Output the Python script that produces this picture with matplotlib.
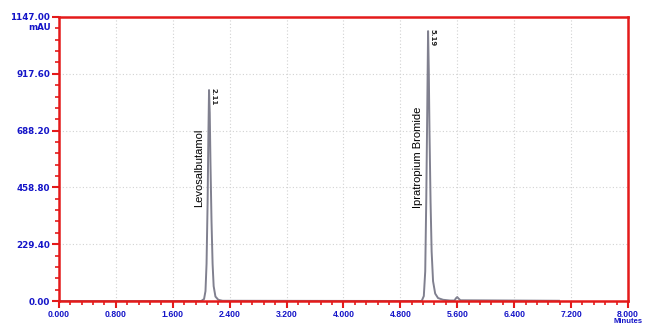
import matplotlib.pyplot as plt
from matplotlib.ticker import MultipleLocator, FixedLocator

# chromatogram trace (minutes, mAU)
time = [0.0, 2.00, 2.04, 2.06, 2.075, 2.09, 2.10, 2.11, 2.12, 2.13, 2.145, 2.16, 2.175, 2.20, 2.24, 2.30,
        5.10, 5.13, 5.15, 5.165, 5.178, 5.19, 5.20, 5.21, 5.225, 5.24, 5.26, 5.29, 5.33, 5.40, 5.50,
        5.56, 5.585, 5.60, 5.615, 5.645, 7.03]
signal = [0, 0, 8, 40, 150, 400, 650, 852, 760, 560, 320, 150, 60, 18, 5, 1,
          0, 20, 120, 420, 760, 1090, 930, 680, 400, 200, 80, 30, 12, 5, 2,
          2, 12, 16, 11, 3, 1]

peak_rt = [2.11, 5.19]
peak_top = [852, 1090]
peak_names = ["Levosalbutamol", "Ipratropium Bromide"]
name_pos = [(1.965, 537), (5.05, 580)]

y_ticks = [0.0, 229.40, 458.80, 688.20, 917.60, 1147.00]
x_ticks = [0.0, 0.8, 1.6, 2.4, 3.2, 4.0, 4.8, 5.6, 6.4, 7.2, 8.0]

red = "#e41a1a"
blue = "#1414c8"

fig = plt.figure(figsize=(6.46, 3.25), dpi=100)
ax = fig.add_axes([0.0913, 0.0738, 0.8807, 0.8739])

ax.plot(time, signal, color="#80808f", lw=1.4)

for rt, top in zip(peak_rt, peak_top):
    ax.text(rt + 0.015, top + 8, f"{rt:.2f}", rotation=270, fontsize=5, fontweight="bold",
            ha="left", va="top", color="#222222")
for (xp, yp), name in zip(name_pos, peak_names):
    ax.text(xp, yp, name, rotation=90, fontsize=8, ha="center", va="center",
            family="Liberation Sans", color="black")

ax.set_xlim(0, 8.0)
ax.set_ylim(0, 1147.0)
ax.xaxis.set_major_locator(FixedLocator(x_ticks))
ax.yaxis.set_major_locator(FixedLocator(y_ticks))
ax.xaxis.set_minor_locator(MultipleLocator(0.16))
ax.yaxis.set_minor_locator(MultipleLocator(45.88))
ax.set_xticklabels([f"{v:.3f}" for v in x_ticks])
ax.set_yticklabels([f"{v:.2f}" for v in y_ticks])

for lab in ax.get_yticklabels():
    lab.set_color(blue)
    lab.set_fontweight("bold")
    lab.set_fontsize(6.3)
for lab in ax.get_xticklabels():
    lab.set_color(blue)
    lab.set_fontweight("bold")
    lab.set_fontsize(6.2)
    lab.set_family("Liberation Sans")

ax.tick_params(which="major", color=red, width=1.5, length=5)
ax.tick_params(axis="x", which="major", pad=1.5)
ax.tick_params(axis="y", which="major", pad=1.5)
ax.tick_params(which="minor", color=red, width=1.2, length=3)
for s in ax.spines.values():
    s.set_color(red)
    s.set_linewidth(1.8)

ax.grid(True, which="major", color="#d2d2d2", ls=(0, (1, 2)), lw=0.8)

fig.text(0.0913 - 0.0125, 0.9477 - 0.033, "mAU", color=blue, fontsize=6.3, fontweight="bold",
         ha="right", va="center")
fig.text(0.972, 0.022, "Minutes", color=blue, fontsize=5.5, fontweight="bold",
         ha="center", va="top", family="Liberation Sans")

fig.savefig("out.png", dpi=100)
